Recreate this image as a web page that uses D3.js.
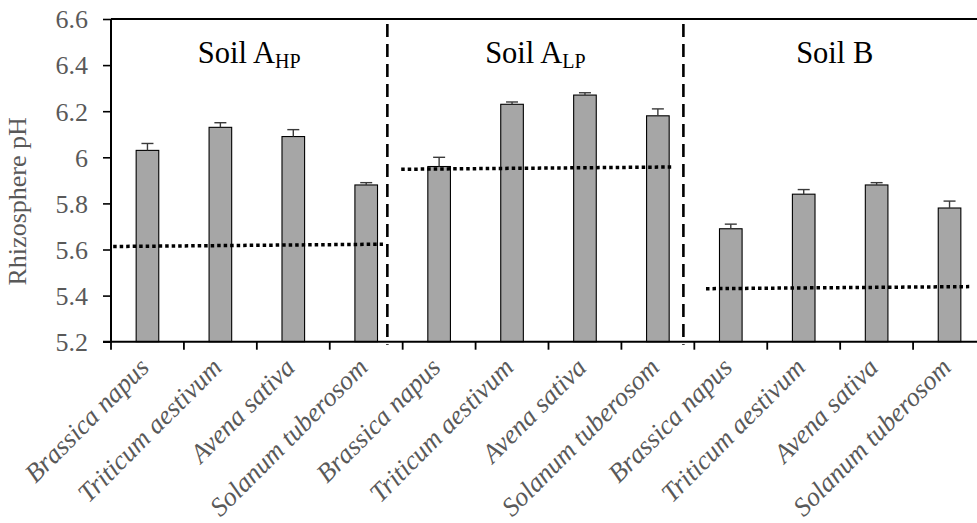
<!DOCTYPE html>
<html>
<head>
<meta charset="utf-8">
<script src="https://cdn.jsdelivr.net/npm/d3@7"></script>
<style>
  html, body { margin: 0; padding: 0; background: #fff; }
  svg { display: block; }
</style>
</head>
<body>
<div id="chart"></div>
<script>
(function() {
    'use strict';

    // soils (one group of four plants each)
    var soilNames = ['Soil A', 'Soil A', 'Soil B'];
    var soilSubs  = ['HP', 'LP', ''];
    var species   = ['Brassica napus', 'Triticum aestivum', 'Avena sativa', 'Solanum tuberosom'];

    // rhizosphere pH, mean and error, in group order
    var phMean = [6.03, 6.13, 6.09, 5.88,  5.96, 6.23, 6.27, 6.18,  5.69, 5.84, 5.88, 5.78];
    var phErr  = [0.03, 0.02, 0.03, 0.01,  0.04, 0.01, 0.01, 0.03,  0.02, 0.02, 0.01, 0.03];

    // bulk soil pH (dotted lines), value at start and end, and span in category units
    var bulkStart = [5.613, 5.948, 5.430];
    var bulkEnd   = [5.623, 5.958, 5.439];
    var bulkFrom  = [0.03, 3.98, 8.16];
    var bulkTo    = [3.73, 7.70, 11.77];

    // dashed dividers between soils, in category units
    var dividers = [3.79, 7.85];

    var yTicks = [5.2, 5.4, 5.6, 5.8, 6, 6.2, 6.4, 6.6];

    var width = 977, height = 523;
    var left = 111, right = 986, top = 19, bottom = 341.7;
    var grey = '#595959';
    var serif = '"Liberation Serif", "Times New Roman", serif';

    var cats = [];
    soilNames.forEach(function(s, g) {
        species.forEach(function(sp, i) { cats.push({ id: g * 4 + i, label: sp }); });
    });

    var svg = d3.select('#chart')
      .append('svg')
        .attr('width', width)
        .attr('height', height);

    var x = d3.scaleBand()
        .domain(cats.map(function(d) { return d.id; }))
        .range([left, right]);
    var xc = d3.scaleLinear().domain([0, cats.length]).range([left, right]);
    var y = d3.scaleLinear().domain([5.2, 6.6]).range([bottom, top]);

    var barW = x.bandwidth() * 0.31;

    // frame
    svg.append('line')
        .attr('x1', left).attr('x2', width).attr('y1', y(6.6)).attr('y2', y(6.6))
        .attr('stroke', 'black').attr('stroke-width', 2);

    // bars
    svg.selectAll('rect.bar')
        .data(cats)
      .enter().append('rect')
        .attr('class', 'bar')
        .attr('x', function(d) { return x(d.id) + (x.bandwidth() - barW) / 2; })
        .attr('y', function(d) { return y(phMean[d.id]); })
        .attr('width', barW)
        .attr('height', function(d) { return y(5.2) - y(phMean[d.id]); })
        .attr('fill', '#a6a6a6')
        .attr('stroke', 'black')
        .attr('stroke-width', 1.1);

    // error bars (upper only)
    var eb = svg.selectAll('g.err')
        .data(cats)
      .enter().append('g')
        .attr('class', 'err')
        .attr('stroke', '#3a3a3a')
        .attr('stroke-width', 1.4);
    eb.append('line')
        .attr('x1', function(d) { return x(d.id) + x.bandwidth() / 2; })
        .attr('x2', function(d) { return x(d.id) + x.bandwidth() / 2; })
        .attr('y1', function(d) { return y(phMean[d.id]); })
        .attr('y2', function(d) { return y(phMean[d.id] + phErr[d.id]); });
    eb.append('line')
        .attr('x1', function(d) { return x(d.id) + x.bandwidth() / 2 - 6; })
        .attr('x2', function(d) { return x(d.id) + x.bandwidth() / 2 + 6; })
        .attr('y1', function(d) { return y(phMean[d.id] + phErr[d.id]); })
        .attr('y2', function(d) { return y(phMean[d.id] + phErr[d.id]); });

    // bulk soil pH dotted lines
    svg.selectAll('line.bulk')
        .data(bulkStart)
      .enter().append('line')
        .attr('class', 'bulk')
        .attr('x1', function(d, i) { return xc(bulkFrom[i]); })
        .attr('x2', function(d, i) { return xc(bulkTo[i]); })
        .attr('y1', function(d) { return y(d); })
        .attr('y2', function(d, i) { return y(bulkEnd[i]); })
        .attr('stroke', 'black')
        .attr('stroke-width', 3.5)
        .attr('stroke-dasharray', '3.5,3');

    // dashed dividers
    svg.selectAll('line.div')
        .data(dividers)
      .enter().append('line')
        .attr('class', 'div')
        .attr('x1', function(d) { return xc(d); })
        .attr('x2', function(d) { return xc(d); })
        .attr('y1', 24)
        .attr('y2', bottom + 3)
        .attr('stroke', 'black')
        .attr('stroke-width', 2.6)
        .attr('stroke-dasharray', '13,7');

    // y axis
    var yAxis = svg.append('g')
        .attr('transform', 'translate(' + left + ',0)')
        .call(d3.axisLeft(y)
            .tickValues(yTicks)
            .tickSize(8)
            .tickPadding(15)
            .tickFormat(function(d) { return d === 6 ? '6' : d3.format('.1f')(d); }));
    yAxis.select('.domain').attr('stroke', 'black').attr('stroke-width', 2)
        .attr('d', 'M0,' + top + 'V' + bottom);
    yAxis.selectAll('.tick line').attr('stroke', 'black').attr('stroke-width', 1.6);
    yAxis.selectAll('.tick text')
        .attr('fill', grey)
        .attr('font-family', serif)
        .attr('font-size', 26)
        .attr('dy', '0.34em');

    // x axis: line plus boundary ticks
    svg.append('line')
        .attr('x1', left - 8).attr('x2', width).attr('y1', bottom).attr('y2', bottom)
        .attr('stroke', 'black').attr('stroke-width', 2);
    svg.selectAll('line.xtick')
        .data(d3.range(cats.length + 1))
      .enter().append('line')
        .attr('class', 'xtick')
        .attr('x1', function(d) { return xc(d); })
        .attr('x2', function(d) { return xc(d); })
        .attr('y1', bottom)
        .attr('y2', bottom + 8)
        .attr('stroke', 'black')
        .attr('stroke-width', 1.8);

    svg.selectAll('text.xlab')
        .data(cats)
      .enter().append('text')
        .attr('class', 'xlab')
        .attr('transform', function(d) {
            return 'translate(' + (x(d.id) + x.bandwidth() / 2 + 3) + ',' + 369 + ') rotate(-45)';
        })
        .attr('text-anchor', 'end')
        .attr('font-family', serif)
        .attr('font-style', 'italic')
        .attr('font-size', 26.5)
        .attr('fill', grey)
        .text(function(d) { return d.label; });

    // y title
    svg.append('text')
        .attr('transform', 'translate(26,' + ((top + bottom) / 2 + 21) + ') rotate(-90)')
        .attr('text-anchor', 'middle')
        .attr('font-family', serif)
        .attr('font-size', 26)
        .attr('fill', grey)
        .text('Rhizosphere pH');

    // soil titles, centred between dividers
    var edges = [0].concat(dividers, [cats.length]);
    soilNames.forEach(function(name, g) {
        var t = svg.append('text')
            .attr('x', xc((edges[g] + edges[g + 1]) / 2))
            .attr('y', 63)
            .attr('text-anchor', 'middle')
            .attr('font-family', serif)
            .attr('font-size', 30.5)
            .attr('fill', 'black')
            .text(name);
        if (soilSubs[g]) {
            t.append('tspan')
                .attr('font-size', 20)
                .attr('dy', 5)
                .text(soilSubs[g]);
        }
    });

}());
</script>
</body>
</html>
